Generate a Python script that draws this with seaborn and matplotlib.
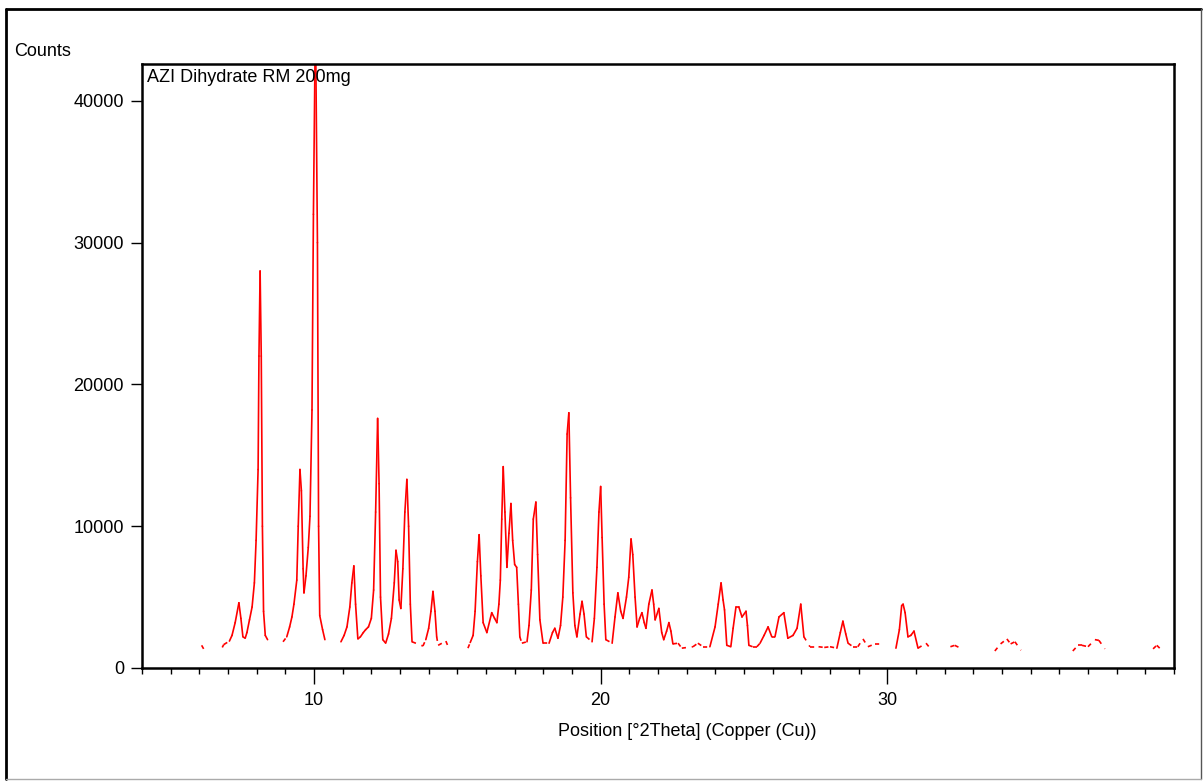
import matplotlib
matplotlib.use("Agg")
import matplotlib.pyplot as plt
from matplotlib.lines import Line2D
from matplotlib.ticker import MultipleLocator, FixedLocator
import seaborn as sns
import pandas as pd

# ---- data ----
two_theta = [
    6.08, 6.15, 6.8, 6.85, 7.05, 7.14, 7.25, 7.38, 7.45, 7.52, 7.6, 7.66, 7.75, 7.84, 7.92, 7.98,
    8.05, 8.08, 8.12, 8.16, 8.2, 8.24, 8.3, 8.38,
    8.92, 9.05, 9.15, 9.23, 9.3, 9.4, 9.45, 9.51, 9.56, 9.62, 9.65, 9.72, 9.8, 9.86, 9.93, 9.98,
    10.05, 10.12, 10.16, 10.2, 10.3, 10.38,
    10.94, 11.05, 11.15, 11.25, 11.32, 11.39, 11.45, 11.53, 11.62, 11.72, 11.8, 11.9, 12.0, 12.08,
    12.15, 12.22, 12.27, 12.32, 12.4, 12.5, 12.6, 12.7, 12.8, 12.86, 12.92, 12.97, 13.03, 13.1,
    13.17, 13.24, 13.3, 13.36, 13.42,
    13.8, 13.9, 14.0, 14.08, 14.15, 14.22, 14.28, 14.33, 14.6, 14.7,
    15.37, 15.45, 15.55, 15.62, 15.7, 15.76, 15.82, 15.9, 16.03, 16.2, 16.3, 16.38, 16.45, 16.5,
    16.55, 16.6, 16.66, 16.73, 16.8, 16.87, 16.93, 17.0, 17.07, 17.13, 17.18, 17.25,
    17.43, 17.5, 17.58, 17.65, 17.74, 17.8, 17.88, 17.99, 18.2, 18.32, 18.4, 18.51, 18.6, 18.68,
    18.76, 18.83, 18.89, 18.95, 19.03, 19.1, 19.17, 19.28, 19.35, 19.42, 19.5, 19.7, 19.78, 19.87,
    19.94, 20.0, 20.05, 20.12, 20.18,
    20.4, 20.5, 20.6, 20.7, 20.78, 20.9, 20.98, 21.06, 21.12, 21.2, 21.27, 21.36, 21.44, 21.52,
    21.58, 21.68, 21.79, 21.85, 21.9, 22.03, 22.13, 22.2, 22.3, 22.38, 22.45, 22.52, 22.7, 22.83,
    23.22, 23.39, 23.57, 23.81, 23.99, 24.1, 24.2, 24.27, 24.32, 24.4, 24.54, 24.62, 24.72, 24.82,
    24.93, 25.07, 25.12, 25.17, 25.3, 25.45, 25.56, 25.7, 25.84, 25.97, 26.08, 26.22, 26.39, 26.53,
    26.71, 26.85, 26.98, 27.09, 27.3, 27.6, 27.8, 28.0, 28.24, 28.36, 28.45, 28.55, 28.63, 28.8,
    28.97, 29.15, 29.32, 29.57, 29.85,
    30.3, 30.42, 30.5, 30.55, 30.62, 30.72, 30.82, 30.93, 31.07, 31.35, 31.45, 32.2, 32.35, 32.5,
    33.75, 33.95, 34.17, 34.3, 34.45, 34.66, 36.47, 36.65, 36.79, 37.0, 37.24, 37.38, 37.59, 38.22,
    39.27, 39.4, 39.5,
]
counts = [
    1600, 1350, 1450, 1650, 1900, 2300, 3200, 4600, 3500, 2200, 2100, 2500, 3400, 4300, 6000, 9000,
    14000, 22000, 28000, 22000, 10000, 4000, 2300, 2000,
    1850, 2200, 2900, 3600, 4500, 6200, 10000, 14000, 12500, 7000, 5300, 6500, 8500, 10700, 18200, 32000,
    46000, 30000, 10000, 3700, 2700, 2000,
    1850, 2300, 2900, 4300, 6000, 7200, 4500, 2050, 2200, 2500, 2700, 2900, 3500, 5500,
    11000, 17600, 13000, 5000, 2000, 1750, 2400, 3500, 6000, 8300, 7500, 4800, 4200, 7000,
    11000, 13300, 10000, 4500, 1850,
    1550, 2000, 2800, 4000, 5400, 4000, 2200, 1600, 1900, 1400,
    1400, 1800, 2300, 4000, 7500, 9400, 6500, 3200, 2500, 3900, 3500, 3200, 4500, 6200,
    10500, 14200, 11000, 7100, 9500, 11600, 9000, 7300, 7100, 4500, 2200, 1750,
    1850, 3000, 5500, 10500, 11700, 8000, 3400, 1750, 1750, 2500, 2800, 2100, 3000, 5000,
    9000, 16500, 18000, 12000, 5300, 3000, 2200, 3800, 4700, 3800, 2200, 1850, 3500, 7100,
    11000, 12800, 9200, 4500, 2000,
    1750, 3600, 5300, 4000, 3500, 5000, 6400, 9100, 8000, 5000, 2900, 3500, 3900, 3200,
    2800, 4500, 5500, 4500, 3400, 4200, 2500, 2000, 2600, 3200, 2600, 1700, 1750, 1400,
    1500, 1750, 1500, 1500, 2900, 4500, 6000, 4800, 4100, 1600, 1500, 2800, 4300, 4300,
    3600, 4000, 3000, 1600, 1500, 1500, 1750, 2300, 2900, 2200, 2200, 3600, 3900, 2100,
    2300, 2800, 4500, 2200, 1500, 1500, 1450, 1500, 1400, 2500, 3300, 2400, 1750, 1500,
    1500, 2050, 1500, 1700, 1700,
    1400, 2700, 4400, 4500, 3900, 2200, 2300, 2600, 1400, 1750, 1500, 1500, 1600, 1450,
    1200, 1700, 2050, 1700, 1850, 1250, 1200, 1600, 1600, 1500, 2000, 1950, 1350, 1400,
    1350, 1600, 1400,
]
x_major_ticks = [10, 20, 30]
y_ticks = [0, 10000, 20000, 30000, 40000]
x_label = "Position [°2Theta] (Copper (Cu))"
y_label = "Counts"
sample_name = "AZI Dihydrate RM 200mg"

# ---- split the trace into pairs: solid where the signal is high, dashed near the baseline ----
solid_rows, dashed_rows = [], []
for i in range(len(two_theta) - 1):
    x0, x1 = two_theta[i], two_theta[i + 1]
    y0, y1 = counts[i], counts[i + 1]
    if x1 - x0 > 0.4:
        continue
    rows = solid_rows if max(y0, y1) >= 2300 else dashed_rows
    rows.append({"x": x0, "y": y0, "u": i})
    rows.append({"x": x1, "y": y1, "u": i})
solid_df = pd.DataFrame(solid_rows)
dashed_df = pd.DataFrame(dashed_rows)

sns.set_style("white")
plt.rcParams["font.family"] = ["Liberation Sans", "DejaVu Sans"]
plt.rcParams["text.color"] = "black"
plt.rcParams["axes.labelcolor"] = "black"
plt.rcParams["xtick.color"] = "black"
plt.rcParams["ytick.color"] = "black"

W, H = 1203, 781
fig = plt.figure(figsize=(W / 100, H / 100), dpi=100)
ax = fig.add_axes([142 / W, 1 - 668 / H, (1174 - 142) / W, (668 - 64) / H])

sns.lineplot(data=solid_df, x="x", y="y", units="u", estimator=None, sort=False,
             color="#ff0000", linewidth=1.2, ax=ax, legend=False)
sns.lineplot(data=dashed_df, x="x", y="y", units="u", estimator=None, sort=False,
             color="#ff0000", linewidth=1.2, linestyle=(0, (2.5, 3.5)), ax=ax, legend=False)

ax.set_xlim(4, 40.0)
ax.set_ylim(0, 42600)
ax.set_xlabel("")
ax.set_ylabel("")
ax.xaxis.set_major_locator(FixedLocator(x_major_ticks))
ax.xaxis.set_minor_locator(MultipleLocator(1))
ax.yaxis.set_major_locator(FixedLocator(y_ticks))
ax.set_yticklabels([str(v) for v in y_ticks])
ax.set_xticklabels([str(v) for v in x_major_ticks])

for s in ax.spines.values():
    s.set_visible(True)
    s.set_color("black")
    s.set_linewidth(1.8)

ax.tick_params(axis="x", which="major", direction="out", length=11.5, width=1.0,
               color="black", labelcolor="black", labelsize=13, pad=6, bottom=True)
ax.tick_params(axis="x", which="minor", direction="out", length=4.5, width=1.0,
               color="black", bottom=True)
ax.tick_params(axis="y", which="major", direction="out", length=8, width=1.0,
               color="black", labelcolor="black", labelsize=13, pad=5, left=True)

fig.text(14 / W, 1 - 52 / H, y_label, ha="left", va="center", fontsize=13, color="black")
fig.text(147 / W, 1 - 77 / H, sample_name, ha="left", va="center", fontsize=13, color="black")
fig.text(687 / W, 1 - 732 / H, x_label, ha="center", va="center", fontsize=13, color="black")

# outer frame of the picture
fig.add_artist(Line2D([5.5 / W, 5.5 / W], [1 - 9 / H, 1 - 779 / H], transform=fig.transFigure,
                      color="black", linewidth=2.0))
fig.add_artist(Line2D([5.5 / W, 1201 / W], [1 - 9 / H, 1 - 9 / H], transform=fig.transFigure,
                      color="black", linewidth=2.0))
fig.add_artist(Line2D([1201 / W, 1201 / W], [1 - 9 / H, 1 - 779 / H], transform=fig.transFigure,
                      color="#555555", linewidth=1.0))
fig.add_artist(Line2D([5.5 / W, 1201 / W], [1 - 779 / H, 1 - 779 / H], transform=fig.transFigure,
                      color="#aaaaaa", linewidth=1.0))

fig.savefig("out.png", dpi=100, facecolor="white")
